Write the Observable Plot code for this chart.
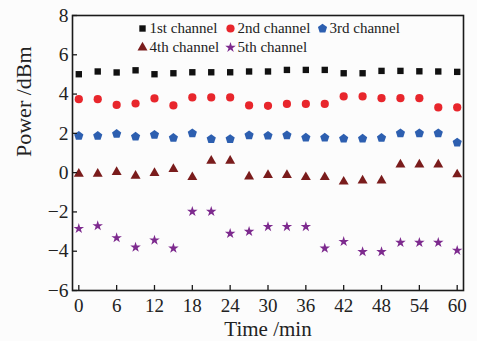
<!DOCTYPE html>
<html>
<head>
<meta charset="utf-8">
<script src="https://cdn.jsdelivr.net/npm/d3@7"></script>
<script src="https://cdn.jsdelivr.net/npm/@observablehq/plot@0.6"></script>
<style>
  html, body { margin: 0; padding: 0; background: #fcfcfc; }
  #chart svg { display: block; }
  #chart svg text { font-family: "Liberation Serif", serif !important; font-variant-numeric: normal !important; }
</style>
</head>
<body>
<div id="chart"></div>
<script>
const times = [0, 3, 6, 9, 12, 15, 18, 21, 24, 27, 30, 33, 36, 39, 42, 45, 48, 51, 54, 57, 60];
const ch1 = [5.01, 5.15, 5.10, 5.21, 5.01, 5.06, 5.11, 5.11, 5.11, 5.15, 5.15, 5.23, 5.23, 5.23, 5.06, 5.06, 5.18, 5.18, 5.16, 5.15, 5.13];
const ch2 = [3.74, 3.74, 3.45, 3.52, 3.78, 3.42, 3.83, 3.83, 3.83, 3.42, 3.40, 3.50, 3.50, 3.50, 3.88, 3.88, 3.79, 3.79, 3.79, 3.32, 3.32];
const ch3 = [1.87, 1.87, 1.97, 1.83, 1.93, 1.77, 2.00, 1.71, 1.71, 1.90, 1.88, 1.90, 1.78, 1.78, 1.73, 1.73, 1.77, 2.00, 2.00, 2.00, 1.53];
const ch4 = [-0.06, -0.06, 0.03, -0.16, -0.02, 0.18, -0.23, 0.60, 0.60, -0.20, -0.12, -0.12, -0.23, -0.23, -0.46, -0.40, -0.40, 0.41, 0.41, 0.41, -0.09];
const ch5 = [-2.85, -2.71, -3.32, -3.80, -3.44, -3.85, -1.98, -1.98, -3.10, -3.00, -2.75, -2.75, -2.75, -3.85, -3.51, -4.03, -4.03, -3.56, -3.56, -3.56, -3.96];
const seriesNames = ["1st channel", "2nd channel", "3rd channel", "4th channel", "5th channel"];
const xTicks = [0, 6, 12, 18, 24, 30, 36, 42, 48, 54, 60];
const yTicks = [-6, -4, -2, 0, 2, 4, 6, 8];
const xTitle = "Time /min";
const yTitle = "Power /dBm";

const pentagon = {
  draw(context, size) {
    const k = 2.5 * Math.sin(2 * Math.PI / 5);
    const r = Math.sqrt(size / k);
    for (let i = 0; i < 5; ++i) {
      const a = -Math.PI / 2 + i * 2 * Math.PI / 5;
      const px = r * Math.cos(a), py = r * Math.sin(a);
      if (i === 0) context.moveTo(px, py); else context.lineTo(px, py);
    }
    context.closePath();
  }
};

const seriesValues = [ch1, ch2, ch3, ch4, ch5];
const symbols = ["square", "circle", pentagon, "triangle", "star"];
const colors = ["#111111", "#e8262c", "#2d5fb0", "#7a1c1c", "#7d2a8e"];
const sizes = [3.6, 4.1, 4.2, 3.7, 3.3];
// legend layout (pixel offsets from the frame's top-left corner)
const legendPos = [[70, 13], [158, 13], [250, 13], [70, 32], [158, 32]];

const marks = [Plot.frame({stroke: "#1a1a1a", strokeWidth: 1.6})];
seriesNames.forEach((name, i) => {
  const data = times.map((t, j) => ({t, v: seriesValues[i][j]}));
  marks.push(Plot.dot(data, {x: "t", y: "v", symbol: symbols[i], fill: colors[i], r: sizes[i], stroke: "none"}));
  const [dx, dy] = legendPos[i];
  marks.push(Plot.dot([name], {frameAnchor: "top-left", dx, dy, symbol: symbols[i], fill: colors[i], r: sizes[i], stroke: "none"}));
  marks.push(Plot.text([name], {frameAnchor: "top-left", dx: dx + 7, dy, text: d => d, textAnchor: "start", lineAnchor: "middle", fill: "#222", fontSize: 15}));
});
marks.push(
  Plot.axisX(xTicks, {tickSize: -5, tickPadding: 13, stroke: "#1a1a1a", strokeWidth: 1.3, fontSize: 19, label: null, fill: "#222"}),
  Plot.axisY(yTicks, {tickSize: -5, tickPadding: 9, stroke: "#1a1a1a", strokeWidth: 1.3, fontSize: 19.5, label: null, fill: "#222"}),
  Plot.text([xTitle], {frameAnchor: "bottom", dy: 38.5, text: d => d, lineAnchor: "middle", fontSize: 21, fill: "#222", letterSpacing: "0.8px"}),
  Plot.text([yTitle], {frameAnchor: "left", dx: -49, dy: 4, rotate: -90, text: d => d, lineAnchor: "middle", fontSize: 22, fill: "#222", letterSpacing: "0.5px"})
);

const chart = Plot.plot({
  width: 477,
  height: 341,
  marginLeft: 72,
  marginRight: 14,
  marginTop: 15,
  marginBottom: 51,
  style: {background: "#fcfcfc", fontFamily: "'Liberation Serif', serif", color: "#222"},
  x: {domain: [-1, 61]},
  y: {domain: [-6, 8]},
  marks
});
document.getElementById("chart").appendChild(chart);
</script>
</body>
</html>
